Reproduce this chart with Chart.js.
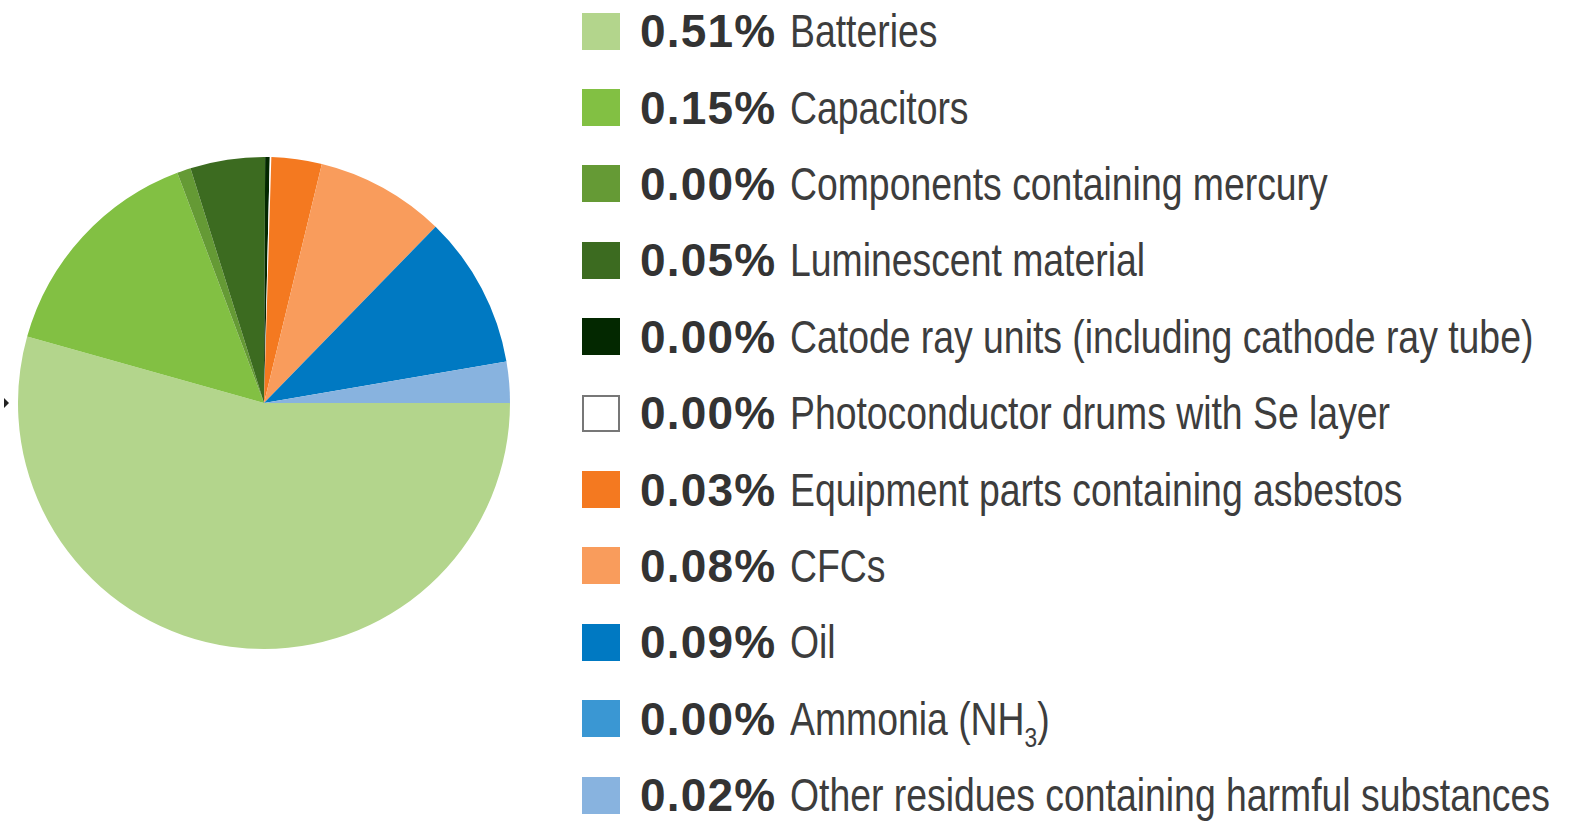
<!DOCTYPE html>
<html>
<head>
<meta charset="utf-8">
<script src="https://cdn.jsdelivr.net/npm/chart.js@4/dist/chart.umd.min.js"></script>
<style>
  html, body { margin: 0; padding: 0; background: #fff; }
  body { width: 1571px; height: 821px; position: relative; overflow: hidden; }
  #pie-wrap { position: absolute; left: 18px; top: 157px; width: 492px; height: 492px; }
  #legend { position: absolute; left: 582px; top: 0; margin: 0; padding: 0; list-style: none; }
  #legend li { height: 76.4px; display: flex; align-items: center; white-space: nowrap; position: relative; top: -7px; }
  #legend .box { width: 38px; height: 37px; box-sizing: border-box; margin-right: 20px; flex: none; }
  #legend .pct { font: bold 46px "Liberation Sans", Arial, sans-serif; color: #333; width: 150px; flex: none; letter-spacing: 1.2px; }
  #legend .txt { font: 46px "Liberation Sans", Arial, sans-serif; color: #3d3d3d; display: inline-block; transform-origin: left center; }
  #legend sub { font-size: 28px; vertical-align: -12px; line-height: 0; }
  #tick { position: absolute; left: 4px; top: 398px; width: 0; height: 0;
          border-top: 5px solid transparent; border-bottom: 5px solid transparent; border-left: 5px solid #222; }
</style>
</head>
<body>
<div id="pie-wrap"><canvas id="pie"></canvas></div>
<div id="tick"></div>
<ul id="legend"></ul>
<script>
// categories, legend percentages and slice shares
var categories = [
  'Batteries',
  'Capacitors',
  'Components containing mercury',
  'Luminescent material',
  'Catode ray units (including cathode ray tube)',
  'Photoconductor drums with Se layer',
  'Equipment parts containing asbestos',
  'CFCs',
  'Oil',
  'Ammonia (NH<sub>3</sub>)',
  'Other residues containing harmful substances'
];
var pctLabels = ['0.51%', '0.15%', '0.00%', '0.05%', '0.00%', '0.00%', '0.03%', '0.08%', '0.09%', '0.00%', '0.02%'];
var sliceShares = [54.3, 14.9, 0.9, 4.9, 0.3, 0.1, 3.3, 8.5, 10.0, 0, 2.7];
var colors = ['#b3d58c', '#82c043', '#659a35', '#3c6b20', '#032800', '#ffffff',
              '#f47920', '#f99c5c', '#0079c2', '#3a97d3', '#88b3df'];

// legend (condensed look: squeeze the regular text horizontally)
var ul = document.getElementById('legend');
var txts = [];
categories.forEach(function (c, i) {
  var li = document.createElement('li');
  var border = colors[i] === '#ffffff' ? 'border:2px solid #777;' : '';
  li.innerHTML = '<span class="box" style="background:' + colors[i] + ';' + border + '"></span>' +
    '<span class="pct">' + pctLabels[i] + '</span>' +
    '<span class="txt">' + c + '</span>';
  ul.appendChild(li);
  txts.push(li.querySelector('.txt'));
});
var squeeze = 743 / txts[4].offsetWidth;
txts.forEach(function (t) { t.style.transform = 'scaleX(' + squeeze + ')'; });

new Chart(document.getElementById('pie'), {
  type: 'pie',
  data: {
    labels: categories,
    datasets: [{
      data: sliceShares,
      backgroundColor: colors,
      borderWidth: 0,
      hoverOffset: 0
    }]
  },
  options: {
    responsive: true,
    maintainAspectRatio: false,
    animation: false,
    rotation: 90,
    layout: { padding: 0 },
    plugins: { legend: { display: false }, tooltip: { enabled: false } }
  }
});
</script>
</body>
</html>
